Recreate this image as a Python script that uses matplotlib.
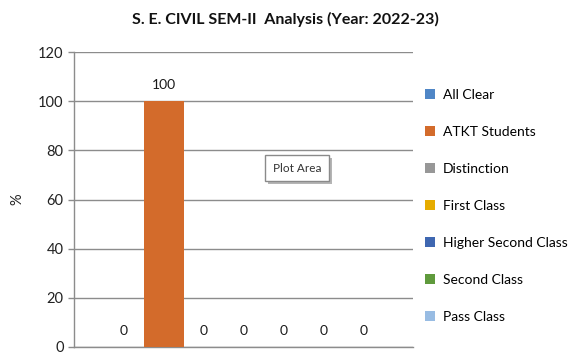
import matplotlib
matplotlib.use("Agg")
import matplotlib.pyplot as plt
from matplotlib.patches import Rectangle, Patch

plt.rcParams['font.family'] = ['Lato', 'DejaVu Sans']

title = "S. E. CIVIL SEM-II  Analysis (Year: 2022-23)"
series = ["All Clear", "ATKT Students", "Distinction", "First Class",
          "Higher Second Class", "Second Class", "Pass Class"]
values = [0, 100, 0, 0, 0, 0, 0]
colors = ["#4F86C6", "#D36B2B", "#979797", "#E6AC00", "#3F67B1", "#5F9A3C", "#98BCE3"]
yticks = [0, 20, 40, 60, 80, 100, 120]

fig = plt.figure(figsize=(5.71, 3.64), dpi=100)
ax = fig.add_axes([74/571, 1-347/364, (413-74)/571, (347-52)/364])

n = len(series)
for i, (s, v, c) in enumerate(zip(series, values, colors)):
    x = i - (n - 1) / 2
    ax.bar(x, v, width=1.0, color=c, label=s, zorder=3)
    ax.text(x, v + 4, f"{v:g}", ha='center', va='bottom', fontsize=10, color='#1a1a1a', zorder=4)

ax.set_xlim(-339/80, 339/80)
ax.set_ylim(0, 120)
ax.set_yticks(yticks)
ax.set_yticklabels([str(t) for t in yticks], fontsize=10.5, color='#222222')
ax.set_xticks([])
ax.grid(axis='y', color='#8c8c8c', linewidth=1, zorder=0)
for sp in ['top', 'right']:
    ax.spines[sp].set_visible(False)
for sp in ['left', 'bottom']:
    ax.spines[sp].set_color('#8c8c8c')
    ax.spines[sp].set_linewidth(1)
ax.tick_params(axis='y', length=4.5, color='#8c8c8c', width=1, pad=3)
ax.set_ylabel("%", fontsize=10.5, color='#222222')
ax.yaxis.set_label_coords((24-74)/339, 0.5)

fig.text(0.5, 1-19/364, title, ha='center', va='center', fontsize=11.5, fontweight='bold', color='#111111')

handles = [Patch(facecolor=c, edgecolor='none') for c in colors]
fig.legend(handles, series, loc='upper left', bbox_to_anchor=(425/571, 1-89/364),
           frameon=False, fontsize=10, handlelength=0.7, handleheight=0.7,
           handletextpad=0.6, labelspacing=1.8, borderpad=0, borderaxespad=0)

# "Plot Area" tooltip
x0, y0, w, h = 265/571, 1-181/364, 64/571, 26/364
fig.patches.append(Rectangle((x0 + 3/571, y0 - 3/364), w, h, transform=fig.transFigure,
                             facecolor='#b5b5b5', edgecolor='none', zorder=5))
fig.patches.append(Rectangle((x0, y0), w, h, transform=fig.transFigure,
                             facecolor='white', edgecolor='#8a8a8a', linewidth=1, zorder=6))
fig.text(x0 + w/2, y0 + h/2, "Plot Area", ha='center', va='center', fontsize=8.5,
         color='#333333', zorder=7)

fig.savefig("out.png", dpi=100)
